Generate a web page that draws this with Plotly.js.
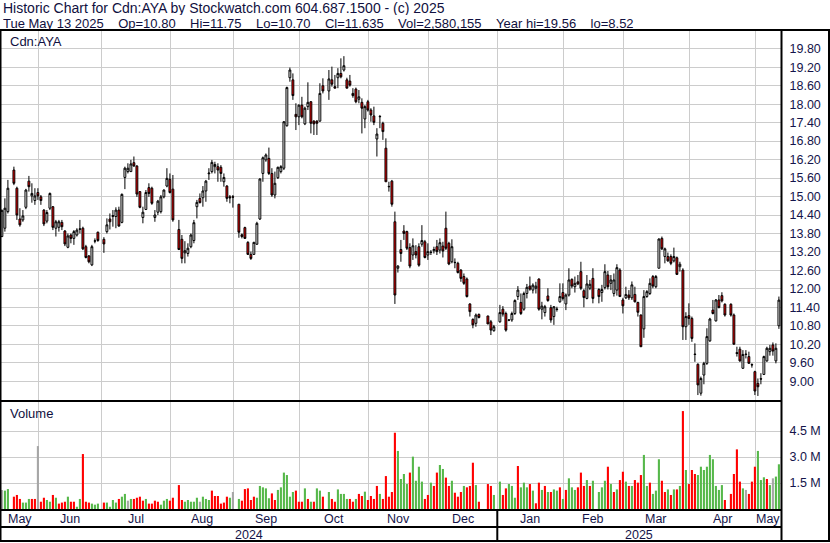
<!DOCTYPE html>
<html><head><meta charset="utf-8">
<script src="https://cdn.plot.ly/plotly-3.0.1.min.js"></script>
<style>html,body{margin:0;padding:0;background:#fff;} #chart{width:830px;height:543px;}</style>
</head><body><div id="chart"></div>
<script>
// ---- calendar: one slot per weekday, exchange holidays left empty ----
const firstDay = '2024-05-15';
const lastDay = '2025-05-13';
const holidays = ['2024-05-20','2024-07-01','2024-08-05','2024-09-02','2024-10-14','2024-12-25','2024-12-26','2025-01-01','2025-02-17','2025-04-18'];

// ---- daily values per weekday slot (null = holiday) ----
const openP = [13.70,13.97,14.51,null,15.86,15.27,14.27,14.24,14.65,15.50,15.02,14.87,15.13,14.99,14.56,14.20,14.62,14.67,13.97,14.00,
14.16,13.88,13.35,13.75,13.64,13.75,13.93,13.97,13.37,13.07,12.78,13.55,13.84,null,13.61,13.86,14.27,14.35,14.35,14.56,
14.16,15.62,15.81,15.81,16.10,15.99,15.16,14.32,14.58,15.29,15.27,14.32,14.49,14.51,14.99,15.34,15.56,15.24,null,13.93,
13.61,13.17,13.15,13.37,13.57,14.67,14.94,14.96,15.18,15.74,15.81,15.97,15.97,15.95,15.48,15.34,14.99,14.99,null,14.75,
13.76,13.99,13.51,13.12,13.12,13.45,14.27,15.75,16.19,16.24,15.75,15.05,15.61,15.81,15.92,17.30,18.86,18.79,17.67,17.59,
17.97,17.36,17.92,18.08,17.45,17.45,17.45,18.60,null,18.43,18.79,18.57,18.86,19.00,19.11,18.79,18.75,18.35,18.49,18.16,
18.06,17.52,18.08,17.81,17.62,16.87,17.59,17.38,16.57,15.33,15.50,14.18,12.67,13.28,13.88,13.86,13.34,13.10,13.21,13.37,
13.45,13.53,13.10,13.18,13.24,13.37,13.26,13.39,13.97,13.48,12.88,12.85,12.83,12.61,12.40,12.32,11.51,11.01,10.88,11.17,
null,null,11.12,10.93,10.64,null,10.93,11.34,11.20,10.98,10.99,11.20,11.75,11.56,11.34,11.85,12.09,11.96,12.02,12.32,
11.34,11.23,11.77,11.39,11.10,11.33,11.58,11.88,11.51,11.80,12.31,12.07,12.23,12.56,11.94,11.69,12.02,12.34,null,11.98,
11.88,12.04,12.45,12.18,11.85,11.96,12.61,11.64,11.71,11.80,11.71,11.82,11.56,11.15,10.70,11.75,11.85,12.40,12.07,12.67,
13.64,13.05,13.05,13.05,12.91,13.01,12.72,12.61,10.77,11.13,11.04,9.88,9.55,8.61,9.20,9.58,10.31,11.31,10.96,11.64,
11.78,11.50,null,11.50,11.15,9.93,10.04,9.42,9.88,9.80,9.54,9.31,8.93,9.08,9.22,9.66,9.96,10.18,9.66,10.80];
const highP = [14.58,14.94,15.54,null,15.97,15.32,14.62,14.56,15.25,15.67,15.43,15.27,15.27,15.05,14.59,14.56,15.13,14.69,14.24,14.24,
14.24,13.91,13.80,13.80,13.91,13.97,14.24,14.02,13.43,13.10,13.43,13.64,13.86,null,13.68,14.29,14.45,14.56,14.65,14.67,
15.10,15.97,16.08,16.19,16.30,16.02,15.16,14.67,15.21,15.43,15.32,14.56,14.89,15.05,15.23,15.92,15.75,15.70,null,14.24,
13.75,13.55,13.48,13.80,14.24,14.89,15.10,15.34,15.54,15.92,16.19,16.13,16.08,16.02,15.75,15.37,15.05,15.05,null,14.75,
13.80,14.02,13.55,13.21,13.53,14.18,15.59,16.30,16.40,16.59,15.92,15.81,15.97,16.02,17.45,18.57,19.19,19.00,18.03,17.99,
18.24,17.92,18.71,18.10,17.48,17.48,18.68,18.84,null,19.11,19.22,18.95,19.17,19.49,19.56,18.86,18.95,18.52,18.54,18.46,
18.19,17.97,18.14,17.87,17.92,17.22,17.65,17.43,16.89,15.48,15.54,14.51,12.77,13.59,14.07,13.89,13.48,13.64,13.42,13.48,
14.07,13.59,13.48,13.26,13.37,13.59,13.64,13.53,14.51,13.53,13.61,12.99,12.88,12.64,12.50,12.37,11.53,11.04,11.20,11.20,
null,null,11.12,10.99,10.83,null,11.48,11.44,11.26,11.00,11.26,11.66,12.09,11.85,11.91,12.16,12.40,12.18,12.23,12.34,
11.58,11.48,12.02,11.48,11.44,11.42,12.18,12.18,11.85,12.67,12.34,12.40,12.45,12.88,11.99,12.45,12.29,12.67,null,12.02,
12.13,12.80,12.58,12.45,12.50,12.80,12.67,11.71,12.07,11.96,12.24,12.07,11.58,11.17,11.96,11.96,12.34,12.45,12.45,13.64,
13.70,13.34,13.18,13.12,13.34,13.05,12.88,12.67,11.24,11.53,11.10,10.23,9.58,9.15,9.63,10.72,11.06,11.64,11.67,11.80,
11.89,11.53,null,11.53,11.20,10.12,10.12,10.01,10.01,9.96,9.58,9.34,9.09,9.26,9.83,10.12,10.18,10.26,10.23,11.75];
const lowP = [13.68,13.86,14.45,null,15.37,14.24,14.02,14.18,14.59,15.16,14.80,14.73,14.89,14.73,14.04,14.13,14.56,13.91,13.70,13.86,
13.91,13.39,13.32,13.48,13.43,13.70,13.80,13.26,12.99,12.83,12.74,13.48,13.53,null,13.17,13.80,13.93,14.02,13.97,14.02,
14.13,15.24,15.75,15.81,15.97,14.99,14.62,14.13,14.56,14.99,14.73,14.18,14.40,14.45,14.94,15.30,15.10,14.18,null,13.26,
12.83,12.83,13.05,13.32,13.48,14.29,14.78,14.67,14.83,15.54,15.75,15.75,15.48,15.48,15.32,14.83,14.78,14.64,null,13.66,
13.64,13.62,13.10,12.94,13.10,13.43,14.24,15.48,16.13,15.70,14.99,14.94,15.57,15.75,15.86,17.27,18.73,18.14,17.16,17.32,
17.54,17.32,17.81,17.05,17.00,17.00,17.43,18.35,null,18.14,18.57,18.52,18.52,18.84,19.06,18.52,18.57,18.21,18.03,18.03,
17.05,17.22,17.76,17.43,17.32,16.30,17.22,16.84,15.48,15.16,14.67,11.51,12.53,12.88,13.59,13.26,12.67,12.94,12.99,12.72,
13.37,12.99,12.94,13.10,13.15,13.10,13.15,13.02,13.26,12.77,12.83,12.67,12.50,12.23,12.13,11.72,11.10,10.72,10.77,11.04,
null,null,10.86,10.50,10.61,null,10.90,11.10,10.61,10.95,10.93,11.15,11.64,11.15,11.29,11.69,11.94,11.85,11.85,11.29,
11.01,11.10,11.58,10.90,10.83,11.26,11.55,11.62,11.31,11.75,12.02,11.88,12.12,11.96,11.40,11.66,11.96,11.53,null,11.53,
11.58,11.98,11.98,11.96,11.75,11.78,11.75,11.20,11.67,11.64,11.64,11.56,11.10,10.12,10.41,11.71,11.80,12.02,12.02,12.67,
13.26,12.83,12.88,12.77,12.86,12.45,12.56,10.34,10.34,10.83,10.28,9.63,8.55,8.53,8.90,9.53,10.28,11.17,10.94,11.37,
11.56,11.10,null,11.10,10.20,9.80,9.63,9.40,9.74,9.58,9.44,8.55,8.52,8.90,9.20,9.63,9.83,9.83,9.58,10.70];
const closeP = [14.55,14.62,15.27,null,15.43,14.40,14.08,14.37,15.21,15.32,15.10,15.02,15.02,14.87,14.11,14.48,15.10,14.00,14.18,14.18,
14.02,13.46,13.72,13.64,13.86,13.91,13.95,13.30,13.02,12.88,13.37,13.56,13.57,null,13.46,14.08,14.18,14.38,14.56,14.04,
15.07,15.92,15.92,16.06,15.99,15.08,14.65,14.49,15.13,15.10,14.78,14.40,14.85,14.99,15.21,15.59,15.13,14.24,null,13.28,
12.99,13.24,13.32,13.75,14.15,14.81,14.80,15.18,15.50,15.76,16.11,16.04,15.86,15.75,15.62,14.94,14.96,14.98,null,13.84,
13.70,13.64,13.12,12.99,13.51,14.13,15.57,16.26,16.35,15.75,15.05,15.43,15.95,15.97,17.43,18.54,19.11,18.28,17.59,17.97,
17.59,17.87,18.06,17.38,17.36,17.38,18.35,18.43,null,18.82,18.65,18.52,19.00,18.89,19.25,18.52,18.62,18.28,18.08,18.24,
17.87,17.92,17.81,17.65,17.41,17.03,17.60,17.11,15.48,15.32,14.75,11.80,12.74,13.15,13.80,13.32,12.74,13.40,13.10,12.77,
13.57,13.02,13.21,13.19,13.28,13.21,13.50,13.23,13.32,12.81,13.37,12.86,12.53,12.34,12.18,11.75,11.26,10.83,11.15,11.07,
null,null,10.86,10.66,10.77,null,11.23,11.18,10.66,10.99,11.20,11.62,11.96,11.20,11.85,12.05,11.99,12.12,12.09,11.34,
11.44,11.42,11.62,10.99,11.42,11.34,11.75,11.69,11.80,12.29,12.09,12.18,12.16,12.02,11.72,12.16,12.15,11.69,null,11.75,
11.98,12.56,12.07,12.29,12.29,12.69,11.75,11.45,11.82,11.71,12.13,11.58,11.24,10.12,11.75,11.91,12.18,12.09,12.40,13.62,
13.30,13.30,12.91,12.83,13.05,12.47,12.80,10.77,11.10,11.04,10.39,9.87,8.88,9.09,9.58,10.45,11.02,11.20,11.64,11.39,
11.61,11.15,null,11.15,10.20,9.90,9.66,9.87,9.87,9.58,9.53,8.68,8.82,9.07,9.80,10.07,10.07,9.98,10.07,11.635];
// volume in millions of shares
const volumeM = [1.10,1.06,1.15,null,0.71,0.81,0.58,0.37,0.37,0.58,0.58,0.58,3.63,0.42,0.65,0.52,0.42,0.81,0.65,0.31,
0.37,0.42,0.71,0.42,0.42,0.13,0.58,3.17,0.42,0.37,0.31,0.25,0.31,null,0.37,0.37,0.13,0.52,0.37,0.58,
0.71,0.87,0.48,0.58,0.58,0.65,0.71,0.48,0.58,0.31,0.31,0.48,0.42,0.25,0.48,0.58,0.48,0.65,null,1.38,
0.52,0.42,0.52,0.42,0.42,0.65,0.42,0.71,0.58,0.52,1.06,0.75,0.75,0.31,0.37,0.71,0.65,0.98,null,0.58,
0.48,1.15,1.19,0.52,0.71,0.65,1.33,1.25,1.19,0.62,0.90,0.52,1.10,1.25,2.10,1.96,0.71,0.98,1.06,0.42,
0.42,1.19,0.58,0.42,0.42,1.19,1.06,0.71,null,0.98,0.58,0.42,1.13,0.87,0.87,0.58,0.58,0.42,0.58,0.87,
0.75,1.00,0.52,0.75,0.58,1.33,0.87,0.58,1.90,0.71,0.98,4.40,3.35,1.73,2.02,1.44,2.10,3.02,1.63,2.44,
1.58,0.58,0.81,1.52,1.33,2.10,2.54,2.31,1.81,1.33,1.63,0.94,0.71,0.98,1.33,1.25,1.33,2.67,1.38,0.42,
null,null,1.44,1.33,0.81,null,1.58,0.81,1.19,1.44,1.33,0.65,2.48,1.25,1.52,1.25,1.44,1.06,0.33,1.52,
1.10,1.33,0.98,0.98,1.13,1.06,1.25,0.58,1.10,1.77,1.25,1.10,1.25,2.10,1.33,1.67,1.33,1.63,null,0.98,
1.25,1.63,2.44,1.44,0.98,1.13,1.67,2.15,1.58,1.33,1.33,1.67,1.52,1.96,3.12,1.33,1.52,0.87,1.06,2.87,
1.63,0.98,1.13,0.81,1.13,1.13,1.33,5.65,2.25,1.44,2.25,2.02,1.96,2.44,2.25,2.44,3.12,2.87,1.33,1.10,
1.38,0.52,null,0.87,2.02,3.44,1.58,1.19,1.10,0.87,1.58,2.44,3.35,1.67,1.83,1.73,1.38,1.77,1.87,2.58];
// volume bar colour as read: g = up, r = down, n = neutral
const volumeTone = 'ngg-rrrgggrrnrrggrgr'+'rrgrrggrrrggg-rggggr'+
'ggngrrrrgrrrrgggrr-r'+'rgggggngggrrrrrrg-r'.concat('g').slice(0,20)+
'rrrrrgggggrrggggggrr'+'rgrgrggr-grrggggrrgr'+
'rgrrrrgrrrrrggggrggg'+'grrgrrggrrgrrrgrrrgr'+
'--rrg-grrgggrgggrgrr'+'grgrggrgrgggrrrgrg-g'+
'ggrgrgrrgrgrrrggrggg'+'rrgrgrgrgrrrggggggggg'.slice(0,20)+
'gr-rrrrgnrrrgggrgngg';

// ---- build trading-day series ----
function buildSlots(){
  const out=[]; const d=new Date(firstDay+'T00:00:00Z'); const end=new Date(lastDay+'T00:00:00Z');
  while(d<=end){const wd=d.getUTCDay(); if(wd>0&&wd<6) out.push(d.toISOString().slice(0,10)); d.setUTCDate(d.getUTCDate()+1);}
  return out;
}
const slots = buildSlots();
const X=[],O=[],Hh=[],L=[],C=[],V=[],VC=[];
const toneColor = {g:'#56b84a', r:'#ff0000', n:'#a6a6a6'};
slots.forEach((day,k)=>{
  if(holidays.indexOf(day)>=0 || openP[k]==null) return;
  X.push(k); O.push(openP[k]); Hh.push(highP[k]); L.push(lowP[k]); C.push(closeP[k]);
  V.push(volumeM[k]*1e6); VC.push(toneColor[volumeTone[k]] || '#a6a6a6');
});

// month boundaries: first weekday of month (weekend starts fall back to the preceding Friday slot)
const gridK=[];
slots.forEach((day,k)=>{
  if(k===0) return;
  const prev=slots[k-1];
  if(day.slice(0,7)!==prev.slice(0,7)){
    const first=new Date(day.slice(0,7)+'-01T00:00:00Z').getUTCDay();
    const onWeekend=(first===0||first===6);
    gridK.push((onWeekend?k-1:k)+0.13);
  }
});
const xRange=[-0.3, slots.length-0.3];
const bounds=[xRange[0]].concat(gridK,[xRange[1]]);
const monthLabels=['May','Jun','Jul','Aug','Sep','Oct','Nov','Dec','Jan','Feb','Mar','Apr','May'];
const yearLabels=['2024','2025'];
const yearBreakK = gridK[monthLabels.indexOf('Jan')-1];

const priceTicks=[]; for(let i=0;i<=18;i++) priceTicks.push(+(9+0.6*i).toFixed(2));
const volTicks=[1.5e6,3.0e6,4.5e6];
const volTickText=['1.5 M','3.0 M','4.5 M'];

// ---- geometry helpers (pixels -> paper) ----
const PL=1, PR=781, PT=31, PB=509;
const px=v=>(v-PL)/(PR-PL), py=v=>(PB-v)/(PB-PT);
const axisFont={family:'Liberation Sans, Arial, sans-serif', size:12.5, color:'#14144a'};
const txtFont={family:'Liberation Sans, Arial, sans-serif', size:13, color:'#101040'};
const titleFont={family:'Liberation Sans, Arial, sans-serif', size:14, color:'#101040'};

const annotations=[];
for(let i=0;i<monthLabels.length;i++){
  annotations.push({xref:'x',yref:'paper',x:(bounds[i]+bounds[i+1])/2,y:py(519),text:monthLabels[i],showarrow:false,xanchor:'center',yanchor:'middle',font:axisFont});
}
annotations.push({xref:'x',yref:'paper',x:(xRange[0]+yearBreakK)/2,y:py(535),text:yearLabels[0],showarrow:false,xanchor:'center',yanchor:'middle',font:axisFont});
annotations.push({xref:'x',yref:'paper',x:(yearBreakK+xRange[1])/2,y:py(535),text:yearLabels[1],showarrow:false,xanchor:'center',yanchor:'middle',font:axisFont});
annotations.push({xref:'paper',yref:'paper',x:px(2),y:py(8),text:'Historic Chart for Cdn:AYA by Stockwatch.com 604.687.1500 - (c) 2025',showarrow:false,xanchor:'left',yanchor:'middle',font:titleFont,height:14,borderpad:0});
const S='\u00a0\u00a0\u00a0\u00a0';
annotations.push({xref:'paper',yref:'paper',x:px(2),y:py(23.5),text:'Tue May 13 2025'+S+'Op=10.80'+S+'Hi=11.75'+S+'Lo=10.70'+S+'Cl=11.635'+S+'Vol=2,580,155'+S+'Year hi=19.56'+S+'lo=8.52',showarrow:false,xanchor:'left',yanchor:'middle',font:txtFont,height:14,borderpad:0});
annotations.push({xref:'paper',yref:'paper',x:px(8),y:py(42),text:'Cdn:AYA',showarrow:false,xanchor:'left',yanchor:'middle',font:txtFont});
annotations.push({xref:'paper',yref:'paper',x:px(8),y:py(413),text:'Volume',showarrow:false,xanchor:'left',yanchor:'middle',font:txtFont});

function hline(y,x0,x1,w){return {type:'line',xref:'paper',yref:'paper',x0:px(x0),x1:px(x1),y0:py(y),y1:py(y),line:{color:'#000',width:w}};}
function vline(x,y0,y1,w){return {type:'line',xref:'paper',yref:'paper',x0:px(x),x1:px(x),y0:py(y0),y1:py(y1),line:{color:'#000',width:w}};}
const shapes=[
  hline(30,0,830,2), hline(401,0,781,2), hline(510,0,781,2), hline(527,0,781,2), hline(541,0,830,2),
  vline(0.5,30,541,2), vline(781.5,30,541,2), vline(829,30,541,2),
  {type:'line',xref:'x',yref:'paper',x0:yearBreakK,x1:yearBreakK,y0:py(510),y1:py(541),line:{color:'#000',width:2}}
];

const traces=[
  {type:'candlestick',x:X,open:O,high:Hh,low:L,close:C,xaxis:'x',yaxis:'y',whiskerwidth:0,
   increasing:{line:{color:'#000',width:1},fillcolor:'#ffffff'},
   decreasing:{line:{color:'#000',width:1},fillcolor:'#ff0000'},hoverinfo:'skip'},
  {type:'bar',x:X,y:V,xaxis:'x',yaxis:'y2',marker:{color:VC,line:{width:0}},hoverinfo:'skip'}
];

const layout={
  width:830,height:543,margin:{l:PL,r:830-PR,t:PT,b:543-PB,pad:0},
  paper_bgcolor:'#fff',plot_bgcolor:'#fff',showlegend:false,
  boxgap:0.12,bargap:0.3,
  xaxis:{range:xRange,tickvals:gridK,showticklabels:false,ticks:'',showgrid:true,gridcolor:'#cccccc',gridwidth:1,zeroline:false,showline:false,rangeslider:{visible:false},anchor:'y2',fixedrange:true},
  yaxis:{domain:[py(400),1],range:[21.385-0.032489*400, 21.385-0.032489*PT],side:'right',tickvals:priceTicks,ticktext:priceTicks.map(v=>v.toFixed(2)),ticks:'outside',ticklen:5,tickcolor:'rgba(0,0,0,0)',showgrid:true,gridcolor:'#cccccc',zeroline:false,showline:false,tickfont:axisFont,fixedrange:true},
  yaxis2:{domain:[0,py(402)],range:[0,(PB-402)/26*1.5e6],side:'right',tickvals:volTicks,ticktext:volTickText,ticks:'outside',ticklen:5,tickcolor:'rgba(0,0,0,0)',showgrid:true,gridcolor:'#cccccc',zeroline:false,showline:false,tickfont:axisFont,fixedrange:true},
  annotations:annotations,shapes:shapes
};
Plotly.newPlot('chart',traces,layout,{staticPlot:true,displayModeBar:false});
</script></body></html>
